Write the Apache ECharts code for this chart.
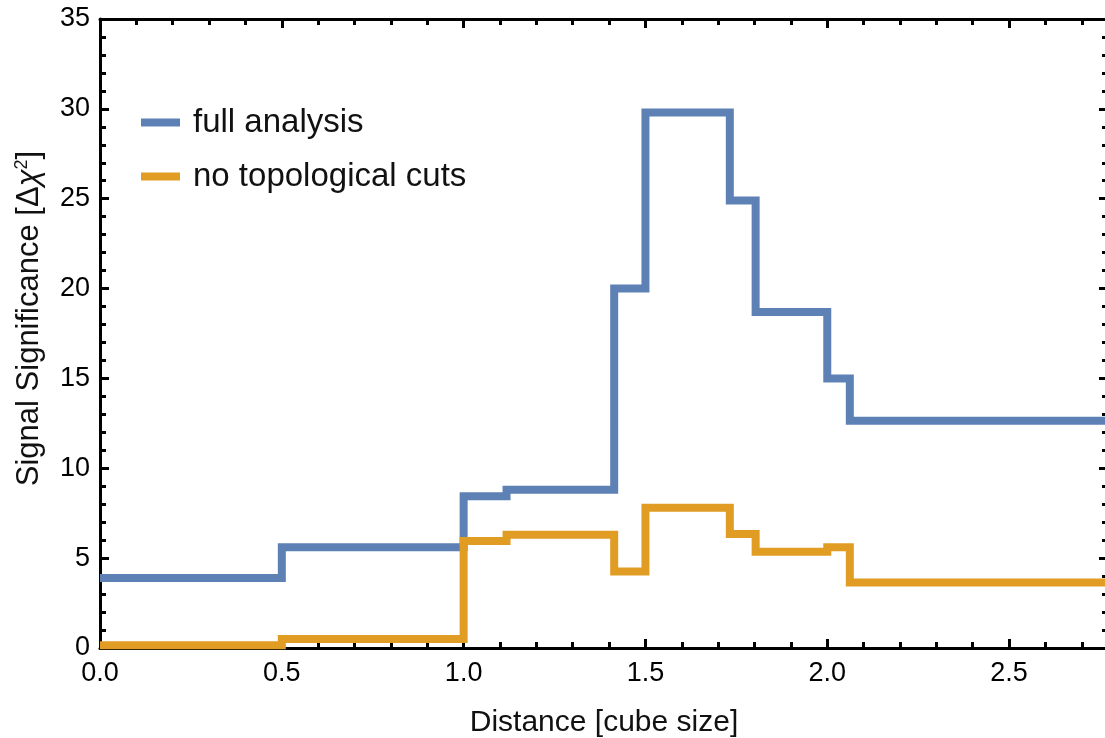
<!DOCTYPE html>
<html>
<head>
<meta charset="utf-8">
<script src="https://cdn.jsdelivr.net/npm/echarts@6/dist/echarts.min.js"></script>
<style>
html,body{margin:0;padding:0;background:#fff;}
#chart{width:1105px;height:738px;}
</style>
</head>
<body>
<div id="chart"></div>
<script>
// Bin edges (distance in cube sizes); last edge extends beyond the visible range
const binEdges = [0, 0.5, 1.0, 1.118, 1.414, 1.5, 1.732, 1.803, 2.0, 2.062, 3.0];
// Values per bin
const fullAnalysis = [3.9, 5.6, 8.45, 8.8, 20.0, 29.8, 24.9, 18.7, 15.0, 12.65];
const noTopoCuts   = [0.15, 0.5, 5.95, 6.3, 4.25, 7.8, 6.35, 5.35, 5.6, 3.65];
const seriesNames = ['full analysis', 'no topological cuts'];
const yTicks = [0, 5, 10, 15, 20, 25, 30, 35];
const xTicks = [0, 0.5, 1.0, 1.5, 2.0, 2.5];

function stepData(vals) {
  const d = vals.map((v, i) => [binEdges[i], v]);
  d.push([binEdges[vals.length], vals[vals.length - 1]]);
  return d;
}

const chart = echarts.init(document.getElementById('chart'), null, {renderer: 'canvas'});
const font = 'Liberation Sans, Arial, Helvetica, sans-serif';
const axisLineStyle = {color: '#000', width: 3};
const tickStyle = {color: '#000', width: 3};

const xCommon = {
  type: 'value', min: xTicks[0], max: 2.772, interval: 0.5,
  axisLine: {show: true, lineStyle: axisLineStyle, onZero: false},
  axisTick: {show: true, inside: true, length: 9, lineStyle: tickStyle},
  minorTick: {show: true, splitNumber: 5, length: 6, lineStyle: tickStyle},
  splitLine: {show: false}, minorSplitLine: {show: false}
};
const yCommon = {
  type: 'value', min: yTicks[0], max: yTicks[yTicks.length - 1], interval: 5,
  axisLine: {show: true, lineStyle: axisLineStyle, onZero: false},
  axisTick: {show: true, inside: true, length: 9, lineStyle: tickStyle},
  minorTick: {show: true, splitNumber: 5, length: 6, lineStyle: tickStyle},
  splitLine: {show: false}, minorSplitLine: {show: false}
};

chart.setOption({
  animation: false,
  backgroundColor: '#fff',
  textStyle: {fontFamily: font},
  grid: {left: 100, top: 19, right: -3, bottom: 90, containLabel: false, outerBoundsMode: 'none'},
  legend: {
    orient: 'vertical', left: 136, top: 101, itemGap: 21,
    itemWidth: 39, itemHeight: 8, icon: 'rect',
    textStyle: {fontSize: 33, color: '#111', fontFamily: font, padding: [0, 0, 0, 8]},
    data: seriesNames
  },
  xAxis: [
    Object.assign({}, xCommon, {
      position: 'bottom',
      name: 'Distance [cube size]', nameLocation: 'middle', nameGap: 60,
      nameTextStyle: {fontSize: 30, color: '#111', fontFamily: font},
      axisLabel: {show: true, fontSize: 27, color: '#000', margin: 12, showMaxLabel: false, fontFamily: font,
        formatter: v => v.toFixed(1)}
    }),
    Object.assign({}, xCommon, {position: 'top', axisLabel: {show: false}})
  ],
  yAxis: [
    Object.assign({}, yCommon, {
      position: 'left',
      name: 'Signal Significance [Δ{i|χ}{sup|2}]', nameLocation: 'middle', nameGap: 55,
      nameTextStyle: {fontSize: 31, color: '#111', fontFamily: font, padding: [0, 0, 0, 30],
        rich: {i: {fontSize: 31, fontStyle: 'italic', fontFamily: font, color: '#111'},
               sup: {fontSize: 18, verticalAlign: 'top', padding: [0, 0, 14, 0], fontFamily: font, color: '#111'}}},
      axisLabel: {show: true, fontSize: 27, color: '#000', margin: 10, fontFamily: font}
    }),
    Object.assign({}, yCommon, {position: 'right', axisLabel: {show: false}})
  ],
  series: [
    {
      name: seriesNames[0], type: 'line', step: 'end', xAxisIndex: 0, yAxisIndex: 0,
      data: stepData(fullAnalysis), showSymbol: false, symbol: 'none',
      lineStyle: {color: '#5E81B5', width: 8, join: 'miter', cap: 'butt'},
      itemStyle: {color: '#5E81B5'}, clip: true
    },
    {
      name: seriesNames[1], type: 'line', step: 'end', xAxisIndex: 0, yAxisIndex: 0,
      data: stepData(noTopoCuts), showSymbol: false, symbol: 'none',
      lineStyle: {color: '#E19C24', width: 8, join: 'miter', cap: 'butt'},
      itemStyle: {color: '#E19C24'}, clip: true
    }
  ]
});
</script>
</body>
</html>
